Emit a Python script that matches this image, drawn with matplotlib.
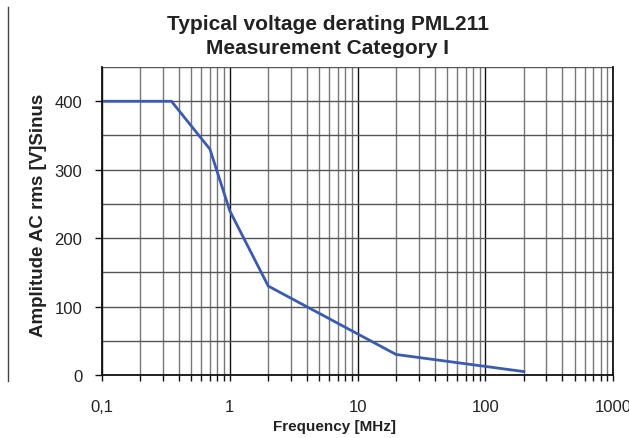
import matplotlib
matplotlib.use("Agg")
import matplotlib.pyplot as plt
from matplotlib.lines import Line2D
from matplotlib.ticker import FixedLocator, NullFormatter

plt.rcParams['font.family'] = ['Liberation Sans', 'DejaVu Sans']

freq = [0.1, 0.35, 0.7, 1.0, 2.0, 20.0, 200.0]
volt = [400, 400, 330, 240, 130, 30, 5]
xticks = [0.1, 1, 10, 100, 1000]
xticklabels = ["0,1", "1", "10", "100", "1000"]
yticks = [0, 100, 200, 300, 400]

fig = plt.figure(figsize=(6.29, 4.39), dpi=100)
ax = fig.add_axes([0.162, 0.1435, 0.813, 0.7015])

ax.set_xscale('log')
ax.set_xlim(0.1, 1000)
ax.set_ylim(0, 450)

minors = [m * 10.0**e for e in range(-1, 3) for m in range(2, 10)]
ax.xaxis.set_major_locator(FixedLocator(xticks))
ax.xaxis.set_minor_locator(FixedLocator(minors))
ax.xaxis.set_minor_formatter(NullFormatter())
ax.set_xticklabels(xticklabels)
ax.set_yticks(yticks)
ax.yaxis.set_minor_locator(FixedLocator([50, 150, 250, 350, 450]))

ax.grid(which='major', axis='x', color='#111111', linewidth=1.0)
ax.grid(which='minor', axis='x', color='#777777', linewidth=1.0)
ax.grid(which='both', axis='y', color='#555555', linewidth=1.0)
ax.set_axisbelow(True)

ax.tick_params(axis='x', which='both', direction='out', length=4, width=1, color='#111111',
               labelsize=12, pad=13, labelcolor='#222222')
ax.tick_params(axis='y', which='major', direction='out', length=5, width=1, color='#111111',
               labelsize=12, pad=9, labelcolor='#222222')
ax.tick_params(axis='y', which='minor', length=0)

for s in ['left', 'bottom', 'right']:
    ax.spines[s].set_color('#111111')
    ax.spines[s].set_linewidth(1.3)
ax.spines['top'].set_visible(False)

ax.plot(freq, volt, color='#3a5bb0', linewidth=2, solid_joinstyle='miter')

ax.set_xlabel('Frequency [MHz]', fontsize=11, fontweight='bold', color='#222222')
ax.xaxis.set_label_coords(0.454, -0.143)
ax.set_ylabel('Amplitude AC rms [V]Sinus', fontsize=13.5, fontweight='bold', color='#222222')
ax.yaxis.set_label_coords(-0.108, 0.523)

fig.text(328/629, 1 - 24/439, 'Typical voltage derating PML211', fontsize=15,
         fontweight='bold', color='#222222', ha='center', va='center')
fig.text(328/629, 1 - 48/439, 'Measurement Category I', fontsize=15,
         fontweight='bold', color='#222222', ha='center', va='center')

fig.add_artist(Line2D([8/629, 8/629], [1 - 8/439, 1 - 382/439], color='#444444', linewidth=1))

fig.savefig('out.png', dpi=100, facecolor='white')
